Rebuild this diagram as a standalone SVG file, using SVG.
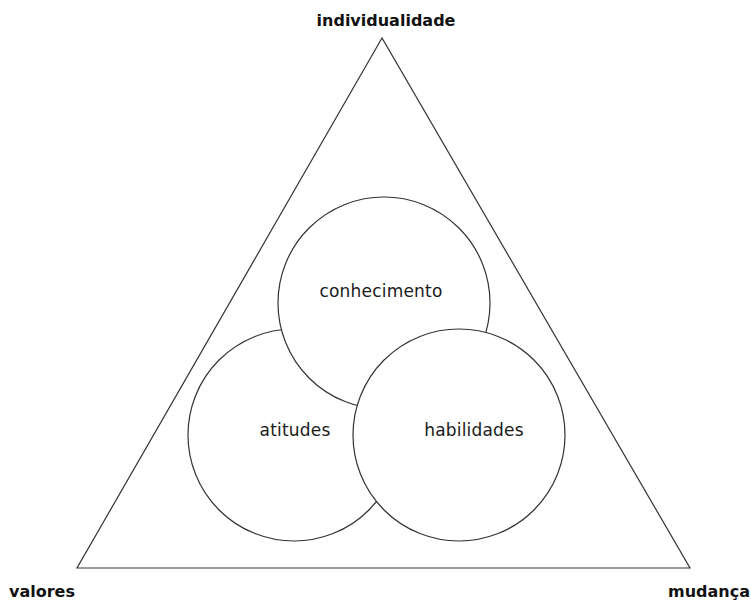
<svg xmlns="http://www.w3.org/2000/svg" width="751" height="604" viewBox="0 0 751 604">
<style>
.shape{fill:#fff;stroke:#333;stroke-width:1.2}
.lbl{font-family:"DejaVu Sans","Liberation Sans",sans-serif;font-size:17px;letter-spacing:0.2px;fill:#1a1a1a;text-anchor:middle}
.corner{font-family:"DejaVu Sans","Liberation Sans",sans-serif;font-size:16px;font-weight:bold;fill:#111;text-anchor:middle}
</style>
<rect width="751" height="604" fill="#fff"/>
<g id="triangle">
<polygon class="shape" points="382,38 77,568 690,568"/>
</g>
<g id="atitudes">
<circle class="shape" cx="294" cy="435" r="106"/>
</g>
<g id="conhecimento">
<circle class="shape" cx="384" cy="303" r="106"/>
<text class="lbl" x="381" y="297">conhecimento</text>
</g>
<g id="habilidades">
<circle class="shape" cx="459" cy="435" r="106"/>
<text class="lbl" x="474" y="436">habilidades</text>
</g>
<g id="atitudes-label">
<text class="lbl" x="295" y="436">atitudes</text>
</g>
<g id="individualidade"><text class="corner" x="386" y="26">individualidade</text></g>
<g id="valores"><text class="corner" x="42" y="597">valores</text></g>
<g id="mudanca"><text class="corner" x="709" y="597">mudança</text></g>
<g id="connectors"></g>
</svg>
